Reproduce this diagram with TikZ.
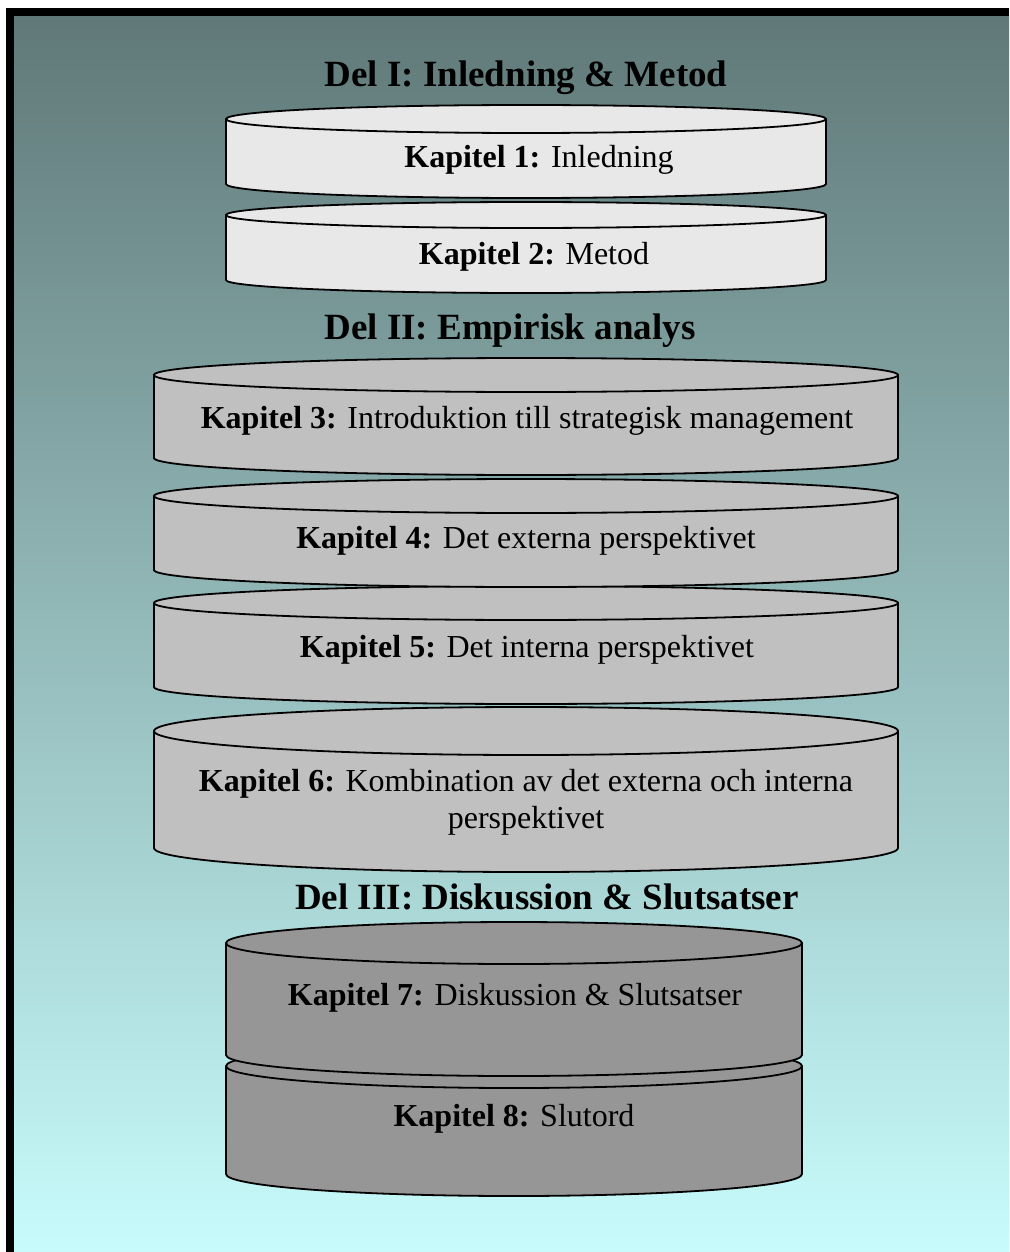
\documentclass[tikz,border=0pt]{standalone}
\usepackage{fontspec}
\setmainfont{Liberation Serif}

\definecolor{bgtop}{RGB}{96,120,120}
\definecolor{bgbottom}{RGB}{200,252,252}
\definecolor{partone}{RGB}{232,232,232}
\definecolor{parttwo}{RGB}{192,192,192}
\definecolor{partthree}{RGB}{150,150,150}

\tikzset{
  canline/.style={draw=black, line width=1.8pt, line join=round},
  heading/.style={anchor=base, inner sep=0pt, font=\fontsize{37}{42}\selectfont\bfseries},
  chapter/.style={anchor=base, inner sep=0pt, align=center, font=\fontsize{32}{37}\selectfont},
}

% can shape: centre x, half width, top ellipse centre y, bottom ellipse centre y, y radius, fill
\newcommand\canshape[6]{%
  \filldraw[canline, fill=#6] (#1-#2,#3) -- (#1-#2,#4)
    arc[start angle=180, end angle=360, x radius=#2pt, y radius=#5pt]
    -- (#1+#2,#3) -- cycle;
  \filldraw[canline, fill=#6] (#1,#3) ellipse[x radius=#2pt, y radius=#5pt];
}

\begin{document}
\begin{tikzpicture}[x=1pt, y=-1pt]
  \useasboundingbox (0,0) rectangle (1009,1252);
  \fill[white] (0,0) rectangle (1009,1252);

  % frame and background
  \shade[top color=bgtop, bottom color=bgbottom] (14,16) rectangle (1009,1252);
  \fill[black] (6,8) rectangle (1009,16);
  \fill[black] (6,8) rectangle (14,1252);

  % Part I
  \node[heading] (del1) at (526,87) {Del I: Inledning \& Metod};
  \canshape{526}{300}{215}{280}{13}{partone}
  \canshape{526}{300}{119}{184}{14}{partone}
  \node[chapter] (kap1) at (539,168) {\textbf{Kapitel 1:} Inledning};
  \node[chapter] (kap2) at (534,264) {\textbf{Kapitel 2:} Metod};

  % Part II
  \node[heading] (del2) at (510,339) {Del II: Empirisk analys};
  \canshape{526}{372}{731}{848}{24}{parttwo}
  \canshape{526}{372}{603}{687}{17}{parttwo}
  \canshape{526}{372}{496}{570}{17}{parttwo}
  \canshape{526}{372}{375}{458}{17}{parttwo}
  \node[chapter] (kap3) at (527,428) {\textbf{Kapitel 3:} Introduktion till strategisk management};
  \node[chapter] (kap4) at (526,548) {\textbf{Kapitel 4:} Det externa perspektivet};
  \node[chapter] (kap5) at (527,657) {\textbf{Kapitel 5:} Det interna perspektivet};
  \node[chapter] (kap6) at (526,828) {\textbf{Kapitel 6:} Kombination av det externa och interna\\perspektivet};

  % Part III
  \node[heading] (del3) at (547,909) {Del III: Diskussion \& Slutsatser};
  \canshape{514}{288}{1066}{1174}{22}{partthree}
  \canshape{514}{288}{943}{1055}{21}{partthree}
  \node[chapter] (kap7) at (515,1005) {\textbf{Kapitel 7:} Diskussion \& Slutsatser};
  \node[chapter] (kap8) at (514,1126) {\textbf{Kapitel 8:} Slutord};
\end{tikzpicture}
\end{document}
